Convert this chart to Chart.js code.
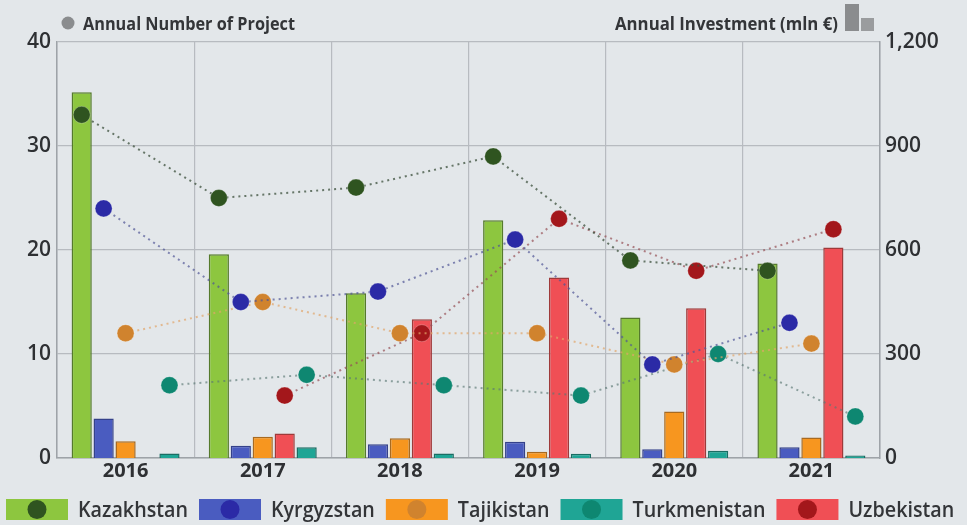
<!DOCTYPE html>
<html>
<head>
<meta charset="utf-8">
<script src="https://cdn.jsdelivr.net/npm/chart.js@4/dist/chart.umd.min.js"></script>
<style>
  html, body { margin: 0; padding: 0; background: #e3e7ea; }
  #wrap { width: 967px; height: 525px; }
</style>
</head>
<body>
<div id="wrap"><canvas id="chart" width="967" height="525"></canvas></div>
<script>
const years = ['2016', '2017', '2018', '2019', '2020', '2021'];

// Annual investment, mln € (bars, right axis)
const invKazakhstan   = [1055, 588, 475, 686, 405, 561];
const invKyrgyzstan   = [114, 35, 40, 47, 25, 31];
const invTajikistan   = [48, 61, 57, 18, 134, 59];
const invUzbekistan   = [null, 71, 400, 521, 432, 607];
const invTurkmenistan = [13, 31, 13, 12, 21, 7];

// Annual number of projects (dots, left axis)
const prjKazakhstan   = [33, 25, 26, 29, 19, 18];
const prjKyrgyzstan   = [24, 15, 16, 21, 9, 13];
const prjTajikistan   = [12, 15, 12, 12, 9, 11];
const prjUzbekistan   = [null, 6, 12, 23, 18, 22];
const prjTurkmenistan = [7, 8, 7, 6, 10, 4];

const leftTicks = [0, 10, 20, 30, 40];
const rightTicks = [0, 300, 600, 900, 1200];

// bar order inside a year group differs from the legend order
const countries = [
  { name: 'Kazakhstan',   inv: invKazakhstan,   prj: prjKazakhstan,   bar: '#8dc63f', edge: '#557a2c', dot: '#2f5420', line: 'rgba(60,80,60,0.75)' },
  { name: 'Kyrgyzstan',   inv: invKyrgyzstan,   prj: prjKyrgyzstan,   bar: '#4a5cc0', edge: '#34418a', dot: '#2b2aa6', line: 'rgba(80,85,150,0.7)' },
  { name: 'Tajikistan',   inv: invTajikistan,   prj: prjTajikistan,   bar: '#f7961f', edge: '#a86a20', dot: '#d0832e', line: 'rgba(225,165,105,0.7)' },
  { name: 'Uzbekistan',   inv: invUzbekistan,   prj: prjUzbekistan,   bar: '#f04f55', edge: '#9e3a3a', dot: '#a3171b', line: 'rgba(150,80,85,0.7)' },
  { name: 'Turkmenistan', inv: invTurkmenistan, prj: prjTurkmenistan, bar: '#1fa595', edge: '#1a6d63', dot: '#0e8771', line: 'rgba(90,120,115,0.65)' }
];
const legendOrder = ['Kazakhstan', 'Kyrgyzstan', 'Tajikistan', 'Turkmenistan', 'Uzbekistan'];

// share of a year slot used by the group of bars
const groupShare = 0.8;
const slot = groupShare / countries.length;
const shiftOf = i => (i - (countries.length - 1) / 2) * slot;

const datasets = [];
countries.forEach((c, i) => {
  datasets.push({
    type: 'bar',
    label: c.name,
    data: c.inv.map((v, k) => ({ x: k + shiftOf(i), y: v })),
    yAxisID: 'y1',
    xAxisID: 'xl',
    grouped: false,
    backgroundColor: c.bar,
    borderColor: c.edge,
    borderWidth: 1.5,
    categoryPercentage: 1,
    barPercentage: 0.92,
    maxBarThickness: 21,
    order: 2
  });
});
countries.forEach((c, i) => {
  datasets.push({
    type: 'line',
    label: c.name + ' projects',
    data: c.prj.map((v, k) => ({ x: k + shiftOf(i), y: v })),
    yAxisID: 'y',
    xAxisID: 'xl',
    borderColor: c.line,
    borderWidth: 2,
    borderDash: [2, 4],
    pointRadius: 8.5,
    pointBackgroundColor: c.dot,
    pointBorderColor: 'rgba(255,255,255,0.25)',
    pointBorderWidth: 1,
    fill: false,
    tension: 0,
    order: 1
  });
});

function squeezeText(ctx, text, x, y, scale) {
  ctx.save();
  ctx.translate(x, y);
  ctx.scale(scale, 1);
  ctx.fillText(text, 0, 0);
  ctx.restore();
  return ctx.measureText(text).width * scale;
}

const overlay = {
  id: 'overlay',
  beforeDraw(chart) {
    const ctx = chart.ctx;
    ctx.save();
    ctx.fillStyle = '#e3e7ea';
    ctx.fillRect(0, 0, chart.width, chart.height);
    ctx.restore();
  },
  afterDraw(chart) {
    const ctx = chart.ctx;
    ctx.save();

    // header labels
    ctx.fillStyle = '#8a8c8e';
    ctx.beginPath();
    ctx.arc(68, 23, 6.5, 0, Math.PI * 2);
    ctx.fill();
    ctx.fillStyle = '#333538';
    ctx.font = '700 17px "Open Sans"';
    ctx.textBaseline = 'alphabetic';
    let t = 'Annual Number of Project';
    squeezeText(ctx, t, 83, 30, 212 / ctx.measureText(t).width);
    t = 'Annual Investment (mln €)';
    squeezeText(ctx, t, 615, 30, 223 / ctx.measureText(t).width);
    ctx.fillStyle = '#8a8c8e';
    ctx.fillRect(845, 4, 14, 27);
    ctx.fillStyle = '#9a9c9e';
    ctx.fillRect(861, 18, 13, 13);

    // legend
    ctx.font = '600 21px "Open Sans"';
    const squeeze = 110 / ctx.measureText('Kazakhstan').width;
    let x = 6;
    legendOrder.forEach(name => {
      const c = countries.find(d => d.name === name);
      ctx.fillStyle = c.bar;
      ctx.fillRect(x, 499, 62, 21);
      ctx.fillStyle = c.dot;
      ctx.beginPath();
      ctx.arc(x + 31, 509.5, 9.5, 0, Math.PI * 2);
      ctx.fill();
      ctx.fillStyle = '#333538';
      const w = squeezeText(ctx, name, x + 72, 517, squeeze);
      x += 72 + w + 11;
    });
    ctx.restore();
  }
};

new Chart(document.getElementById('chart'), {
  type: 'bar',
  data: { labels: years, datasets },
  plugins: [overlay],
  options: {
    responsive: false,
    animation: false,
    layout: { padding: { top: 42, left: 0, right: 0, bottom: 0 } },
    plugins: { legend: { display: false }, tooltip: { enabled: false } },
    scales: {
      x: {
        type: 'category',
        offset: true,
        grid: { color: '#b7bbc0', lineWidth: 1.2, offset: true, drawTicks: false },
        border: { color: '#9ea3a8', width: 1.5 },
        ticks: { color: '#2e3033', font: { family: 'Open Sans', size: 20, weight: 'bold' }, padding: 1 },
        afterFit(scale) { scale.height = 67; }
      },
      xl: {
        type: 'linear',
        display: false,
        offset: false,
        grid: { offset: false },
        min: -0.5,
        max: years.length - 0.5
      },
      y: {
        position: 'left',
        min: leftTicks[0],
        max: leftTicks[leftTicks.length - 1],
        afterBuildTicks(scale) { scale.ticks = leftTicks.map(v => ({ value: v })); },
        grid: { color: '#b7bbc0', lineWidth: 1.2, drawTicks: false },
        border: { color: '#9ea3a8', width: 1.5 },
        ticks: { color: '#2e3033', font: { family: 'Open Sans', size: 21, weight: '600' }, padding: 6 },
        afterFit(scale) { scale.width = 57; }
      },
      y1: {
        position: 'right',
        min: rightTicks[0],
        max: rightTicks[rightTicks.length - 1],
        afterBuildTicks(scale) { scale.ticks = rightTicks.map(v => ({ value: v })); },
        grid: { display: false, drawTicks: false },
        border: { color: '#9ea3a8', width: 1.5 },
        ticks: {
          color: '#2e3033',
          font: { family: 'Open Sans', size: 21, weight: '600' },
          padding: 5,
          callback: v => v.toLocaleString('en-US')
        },
        afterFit(scale) { scale.width = 87; }
      }
    }
  }
});
</script>
</body>
</html>
